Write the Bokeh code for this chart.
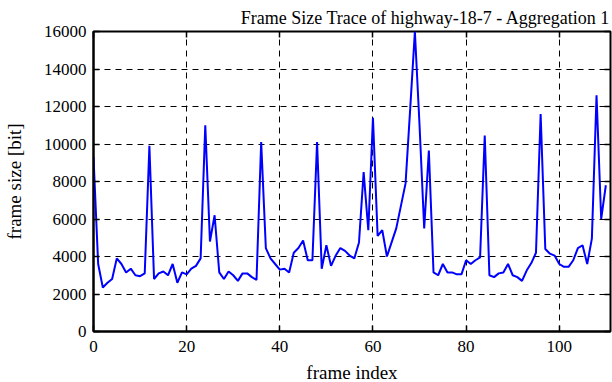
from bokeh.plotting import figure
from bokeh.embed import file_html
from bokeh.resources import INLINE
from bokeh.models import LinearAxis, FixedTicker, Range1d

frame_index = list(range(111))
frame_size = [
    9300, 3600, 2350, 2600, 2800, 3900, 3600, 3150, 3350, 3000,
    2950, 3100, 9900, 2800, 3100, 3200, 3000, 3600, 2600, 3150,
    3050, 3350, 3500, 3900, 11000, 4800, 6200, 3150, 2800, 3200,
    3000, 2700, 3100, 3100, 2900, 2750, 10100, 4450, 3900, 3600,
    3300, 3350, 3150, 4200, 4450, 4850, 3800, 3800, 10100, 3350,
    4600, 3500, 4050, 4450, 4300, 4050, 3900, 4750, 8500, 5400,
    11400, 5100, 5400, 4000, 4750, 5500, 6700, 7900, 11900, 16000,
    11000, 5500, 9650, 3150, 3000, 3600, 3150, 3150, 3050, 3050,
    3800, 3600, 3800, 3950, 10450, 3000, 2900, 3100, 3150, 3600,
    3000, 2900, 2700, 3250, 3650, 4200, 11600, 4400, 4150, 4050,
    3600, 3450, 3450, 3800, 4450, 4600, 3600, 4950, 12600, 6000,
    7800,
]
x_ticks = [0, 20, 40, 60, 80, 100]
y_ticks = [0, 2000, 4000, 6000, 8000, 10000, 12000, 14000, 16000]

FONT = "Liberation Serif"

p = figure(frame_width=517, frame_height=300, output_backend="svg", toolbar_location=None,
           x_range=Range1d(0, 111), y_range=Range1d(0, 16000),
           min_border_left=91, min_border_right=2, min_border_top=31, min_border_bottom=46,
           title="Frame Size Trace of highway-18-7 - Aggregation 1")
p.title.text_font = FONT
p.title.text_font_size = "18px"
p.title.text_font_style = "normal"
p.title.text_color = "black"
p.title.align = "right"
p.title.standoff = 8

p.line(frame_index, frame_size, line_color="#0000ff", line_width=2)

p.outline_line_color = "black"
p.outline_line_width = 2
p.outline_line_alpha = 1

for ax in (p.xaxis[0], p.yaxis[0]):
    ax.major_tick_in = 6
    ax.major_tick_out = 0
    ax.minor_tick_in = 0
    ax.minor_tick_out = 0
    ax.axis_line_color = "black"
    ax.axis_line_width = 2
    ax.major_tick_line_color = "black"
    ax.major_tick_line_width = 1.5
    ax.major_label_text_font = FONT
    ax.major_label_text_font_size = "17px"
    ax.major_label_text_color = "black"
    ax.axis_label_text_font = FONT
    ax.axis_label_text_font_size = "19px"
    ax.axis_label_text_font_style = "normal"
    ax.axis_label_text_color = "black"

p.xaxis[0].ticker = FixedTicker(ticks=x_ticks)
p.yaxis[0].ticker = FixedTicker(ticks=y_ticks)
p.xaxis[0].axis_label = "frame index"
p.yaxis[0].axis_label = "frame size [bit]"
p.xaxis[0].major_label_standoff = 9
p.xaxis[0].axis_label_standoff = 7
p.yaxis[0].major_label_standoff = 7
p.yaxis[0].axis_label_standoff = 16

# mirror ticks on top and right (no labels)
top = LinearAxis(ticker=FixedTicker(ticks=x_ticks), major_label_text_color=None,
                 major_label_text_font_size="1px",
                 major_tick_in=6, major_tick_out=0, minor_tick_in=0, minor_tick_out=0,
                 axis_line_color=None, major_tick_line_width=1.5, major_label_standoff=0)
right = LinearAxis(ticker=FixedTicker(ticks=y_ticks), major_label_text_color=None,
                   major_label_text_font_size="1px",
                   major_tick_in=6, major_tick_out=0, minor_tick_in=0, minor_tick_out=0,
                   axis_line_color=None, major_tick_line_width=1.5, major_label_standoff=0)
p.add_layout(top, "above")
p.add_layout(right, "right")

for g in (p.xgrid[0], p.ygrid[0]):
    g.grid_line_color = "black"
    g.grid_line_dash = "6 5"
    g.grid_line_width = 1
    g.grid_line_alpha = 1
p.xgrid[0].ticker = FixedTicker(ticks=x_ticks)
p.ygrid[0].ticker = FixedTicker(ticks=y_ticks)

open("out.html", "w").write(file_html(p, INLINE))
